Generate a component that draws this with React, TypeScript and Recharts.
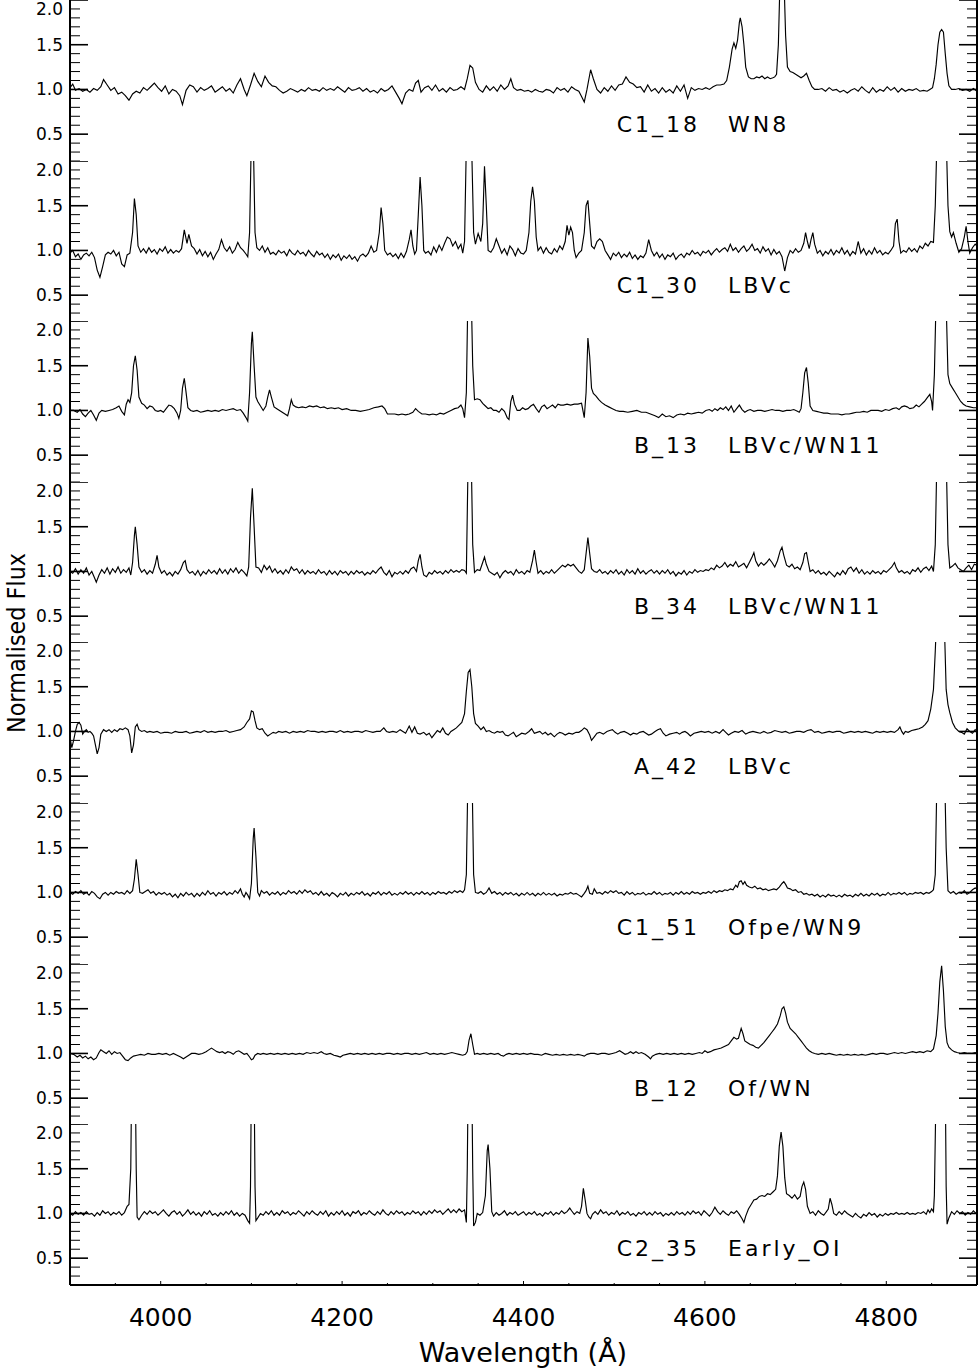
import React from 'react';
import { LineChart, Line, XAxis, YAxis } from 'recharts';

type Pt = [number, number];

const xTicks = [3900, 3950, 4000, 4050, 4100, 4150, 4200, 4250, 4300, 4350, 4400, 4450, 4500, 4550, 4600, 4650, 4700, 4750, 4800, 4850, 4900];
const xTickLabels = [4000, 4200, 4400, 4600, 4800];
const yTicks = [0.2, 0.3, 0.4, 0.5, 0.6, 0.7, 0.8, 0.9, 1.0, 1.1, 1.2, 1.3, 1.4, 1.5, 1.6, 1.7, 1.8, 1.9, 2.0];
const yTickLabels = [0.5, 1.0, 1.5, 2.0];

const panelNames = ['C1_18', 'C1_30', 'B_13', 'B_34', 'A_42', 'C1_51', 'B_12', 'C2_35'];
const panelTypes = ['WN8', 'LBVc', 'LBVc/WN11', 'LBVc/WN11', 'LBVc', 'Ofpe/WN9', 'Of/WN', 'Early_OI'];

const c118: Pt[] = [[3900,1.02],[3903,1.06],[3906,0.99],[3910,1.01],[3914,0.98],[3918,1.0],[3922,0.97],[3926,1.01],[3930,0.99],[3934,1.03],[3937,1.11],[3941,1.05],[3945,0.99],[3949,1.02],[3953,0.95],[3957,0.97],[3961,0.93],[3965,0.88],[3969,0.95],[3973,0.98],[3977,0.96],[3981,1.02],[3985,0.99],[3989,1.03],[3993,1.07],[3997,1.02],[4001,0.98],[4005,1.04],[4009,0.95],[4013,1.0],[4017,0.98],[4021,0.93],[4024,0.83],[4028,0.99],[4032,1.05],[4036,1.03],[4040,0.97],[4044,1.02],[4048,0.99],[4052,1.01],[4056,1.04],[4060,0.97],[4064,1.0],[4068,1.03],[4072,0.98],[4076,1.01],[4080,0.96],[4084,1.05],[4088,1.12],[4092,1.0],[4095,0.93],[4099,1.05],[4103,1.18],[4107,1.09],[4111,1.03],[4115,1.15],[4119,1.08],[4123,1.04],[4127,1.03],[4131,0.99],[4135,0.96],[4139,0.98],[4143,1.01],[4147,0.99],[4151,0.97],[4155,1.0],[4159,0.98],[4163,1.02],[4167,0.99],[4171,1.0],[4175,0.98],[4179,1.02],[4183,0.99],[4187,1.01],[4191,0.99],[4195,1.03],[4199,1.0],[4203,0.97],[4207,1.02],[4211,0.99],[4215,1.0],[4219,1.02],[4223,0.98],[4227,1.01],[4231,0.97],[4235,0.99],[4239,0.96],[4243,1.01],[4247,0.98],[4251,1.0],[4255,1.04],[4259,0.97],[4263,0.9],[4266,0.84],[4270,0.96],[4274,1.0],[4278,0.98],[4281,1.07],[4284,1.1],[4287,0.97],[4291,1.02],[4295,1.04],[4299,0.99],[4303,1.05],[4307,0.98],[4311,1.01],[4315,0.97],[4319,1.02],[4323,0.99],[4327,1.0],[4331,1.03],[4335,1.0],[4338,1.12],[4341,1.27],[4344,1.24],[4347,1.08],[4351,1.0],[4355,0.97],[4359,1.04],[4363,0.99],[4367,1.03],[4371,0.98],[4375,1.05],[4379,1.0],[4383,1.04],[4386,1.12],[4389,1.02],[4393,0.99],[4397,1.0],[4401,0.98],[4405,0.99],[4409,0.97],[4413,1.0],[4417,0.98],[4421,0.97],[4425,1.0],[4429,0.99],[4433,0.96],[4437,1.02],[4441,0.99],[4445,1.01],[4449,0.97],[4453,1.03],[4457,1.0],[4461,0.98],[4464,0.92],[4467,0.86],[4470,1.0],[4474,1.22],[4477,1.12],[4481,1.0],[4485,0.96],[4489,1.02],[4493,0.98],[4497,1.04],[4501,0.99],[4505,1.05],[4509,1.06],[4513,1.14],[4517,1.08],[4521,1.06],[4525,1.02],[4529,1.03],[4533,0.97],[4537,1.05],[4541,0.98],[4545,1.01],[4549,0.96],[4553,1.02],[4557,0.97],[4561,1.0],[4565,0.96],[4569,1.04],[4573,0.98],[4577,1.05],[4581,0.9],[4585,1.02],[4589,0.99],[4593,1.01],[4597,1.0],[4601,1.02],[4605,1.0],[4609,1.03],[4613,1.05],[4617,1.05],[4621,1.06],[4624,1.1],[4627,1.25],[4630,1.45],[4632,1.52],[4634,1.46],[4636,1.55],[4638,1.75],[4639,1.8],[4641,1.7],[4643,1.5],[4645,1.25],[4648,1.14],[4651,1.12],[4654,1.12],[4657,1.14],[4660,1.13],[4663,1.15],[4666,1.12],[4669,1.14],[4672,1.12],[4675,1.13],[4677,1.14],[4679,1.17],[4681,1.5],[4683,2.3],[4687,2.3],[4689,1.6],[4691,1.25],[4694,1.2],[4697,1.19],[4700,1.17],[4703,1.15],[4706,1.13],[4709,1.15],[4712,1.18],[4715,1.1],[4718,1.03],[4721,1.0],[4725,1.0],[4729,1.01],[4733,0.98],[4737,1.02],[4741,0.99],[4745,1.0],[4749,0.97],[4753,0.99],[4757,0.96],[4761,0.99],[4765,1.01],[4769,0.98],[4773,1.03],[4777,0.99],[4781,0.96],[4785,1.02],[4789,0.97],[4793,1.0],[4797,0.98],[4801,1.03],[4805,0.99],[4809,1.02],[4813,0.97],[4817,1.01],[4821,0.98],[4825,1.0],[4829,0.99],[4833,1.01],[4837,0.98],[4841,0.99],[4845,0.98],[4848,1.0],[4851,1.02],[4853,1.12],[4855,1.28],[4857,1.5],[4859,1.64],[4861,1.67],[4863,1.64],[4865,1.4],[4867,1.18],[4869,1.04],[4872,1.0],[4876,1.0],[4880,1.01],[4884,0.99],[4888,1.0],[4892,0.98],[4896,1.01],[4900,0.98]];

const c130: Pt[] = [[3900,0.97],[3903,1.0],[3906,0.93],[3909,0.96],[3912,0.9],[3915,0.95],[3918,0.97],[3921,0.94],[3924,0.98],[3927,0.92],[3930,0.78],[3933,0.7],[3936,0.82],[3939,0.95],[3942,0.98],[3945,0.96],[3948,1.0],[3951,0.94],[3954,0.98],[3957,0.85],[3960,0.82],[3963,0.95],[3966,0.97],[3969,1.2],[3971,1.58],[3973,1.4],[3975,1.05],[3978,0.98],[3981,1.02],[3984,0.97],[3987,1.03],[3990,0.98],[3993,1.01],[3996,0.96],[3999,1.02],[4002,0.99],[4005,1.04],[4008,0.97],[4011,1.01],[4014,0.97],[4017,1.0],[4020,0.98],[4023,1.02],[4026,1.23],[4029,1.08],[4031,1.18],[4034,1.05],[4037,1.02],[4040,0.96],[4043,1.01],[4046,0.94],[4049,0.99],[4052,0.93],[4055,0.98],[4058,0.9],[4061,0.96],[4064,1.01],[4067,1.12],[4070,1.03],[4073,0.99],[4076,1.04],[4079,0.97],[4082,1.01],[4085,1.09],[4088,1.03],[4091,1.0],[4094,0.96],[4096,0.93],[4098,1.2],[4100,2.3],[4102,2.3],[4104,1.2],[4106,1.03],[4109,1.0],[4112,1.05],[4115,0.98],[4118,1.03],[4121,0.96],[4124,0.98],[4127,0.95],[4130,1.0],[4133,0.97],[4136,0.99],[4139,0.94],[4142,1.01],[4145,0.97],[4148,0.95],[4151,1.0],[4154,0.96],[4157,0.98],[4160,0.94],[4163,1.0],[4166,0.96],[4169,0.93],[4172,0.99],[4175,0.95],[4178,0.97],[4181,0.92],[4184,0.96],[4187,0.9],[4190,0.95],[4193,0.92],[4196,0.96],[4199,0.89],[4202,0.94],[4205,0.91],[4208,0.95],[4211,0.9],[4214,0.93],[4217,0.88],[4220,0.94],[4223,0.96],[4226,0.93],[4229,0.97],[4232,1.05],[4235,0.98],[4238,1.0],[4241,1.2],[4243,1.48],[4245,1.3],[4247,1.0],[4250,0.95],[4253,0.97],[4256,0.93],[4259,0.96],[4262,0.91],[4265,0.97],[4268,0.92],[4271,0.99],[4274,1.12],[4276,1.23],[4278,1.05],[4280,0.96],[4282,1.0],[4284,1.4],[4286,1.82],[4288,1.5],[4290,1.0],[4292,0.97],[4295,0.99],[4298,0.95],[4301,1.04],[4304,0.98],[4307,1.06],[4310,1.0],[4313,1.08],[4316,1.15],[4319,1.13],[4322,1.05],[4325,1.1],[4328,1.02],[4331,1.07],[4333,0.97],[4335,1.1],[4337,2.2],[4339,2.5],[4341,2.5],[4343,2.1],[4345,1.2],[4347,1.07],[4350,1.19],[4353,1.1],[4355,1.3],[4357,1.94],[4359,1.5],[4361,1.0],[4364,0.98],[4367,1.03],[4370,1.13],[4373,1.05],[4376,0.97],[4379,1.02],[4382,0.95],[4385,1.05],[4388,1.01],[4391,0.94],[4394,1.02],[4397,0.97],[4400,0.96],[4403,1.0],[4406,1.2],[4408,1.55],[4410,1.71],[4412,1.55],[4414,1.15],[4416,1.0],[4419,1.04],[4422,0.97],[4425,1.03],[4428,0.98],[4431,0.96],[4434,1.02],[4437,0.98],[4440,1.05],[4443,1.01],[4446,1.1],[4448,1.28],[4450,1.17],[4452,1.26],[4454,1.2],[4456,1.0],[4458,0.92],[4461,0.97],[4464,1.0],[4467,1.2],[4469,1.5],[4471,1.56],[4473,1.3],[4475,1.05],[4478,1.02],[4481,1.1],[4484,1.13],[4487,1.1],[4490,1.0],[4493,0.95],[4496,0.9],[4499,0.97],[4502,0.94],[4505,0.98],[4508,0.92],[4511,0.96],[4514,0.93],[4517,0.98],[4520,0.91],[4523,0.95],[4526,0.9],[4529,0.94],[4532,0.92],[4535,0.97],[4538,1.12],[4541,1.0],[4544,0.94],[4547,0.98],[4550,0.92],[4553,0.96],[4556,0.9],[4559,0.95],[4562,0.93],[4565,0.97],[4568,0.9],[4571,0.94],[4574,0.96],[4577,0.92],[4580,0.97],[4583,0.95],[4586,1.0],[4589,0.96],[4592,0.98],[4595,0.94],[4598,0.99],[4601,0.97],[4604,1.0],[4607,0.95],[4610,0.99],[4613,1.02],[4616,0.98],[4619,1.01],[4622,1.03],[4625,0.99],[4628,1.07],[4631,1.0],[4634,1.03],[4637,0.98],[4640,1.02],[4643,1.05],[4646,0.99],[4649,1.02],[4652,1.07],[4655,1.0],[4658,1.02],[4661,0.97],[4664,1.04],[4667,0.99],[4670,1.02],[4673,0.95],[4676,1.01],[4679,0.96],[4682,0.99],[4685,0.93],[4688,0.77],[4691,0.92],[4694,1.0],[4697,0.97],[4700,1.02],[4703,0.98],[4706,1.0],[4709,1.08],[4711,1.2],[4713,1.1],[4715,1.02],[4717,1.12],[4719,1.2],[4721,1.07],[4724,0.97],[4727,1.0],[4730,0.94],[4733,0.99],[4736,0.96],[4739,1.01],[4742,0.95],[4745,1.0],[4748,0.97],[4751,1.03],[4754,0.96],[4757,1.0],[4760,0.94],[4763,0.99],[4766,0.96],[4769,1.1],[4772,0.97],[4775,1.02],[4778,0.95],[4781,1.0],[4784,0.96],[4787,1.03],[4790,0.97],[4793,1.0],[4796,0.95],[4799,0.98],[4802,0.96],[4805,1.0],[4808,1.05],[4810,1.3],[4812,1.35],[4814,1.1],[4816,0.97],[4819,1.0],[4822,0.98],[4825,1.03],[4828,0.99],[4831,1.02],[4834,0.98],[4837,1.05],[4840,1.02],[4843,1.08],[4846,1.05],[4849,1.1],[4852,1.09],[4854,1.5],[4856,2.3],[4862,2.5],[4866,2.3],[4868,1.5],[4870,1.21],[4872,1.15],[4874,1.2],[4877,1.08],[4880,0.98],[4883,1.02],[4886,1.15],[4888,1.27],[4890,1.1],[4892,0.97],[4895,1.03],[4898,1.07],[4900,1.05]];

const b13: Pt[] = [[3900,1.0],[3904,1.0],[3908,0.98],[3911,1.01],[3914,0.96],[3917,0.93],[3920,0.97],[3923,1.0],[3926,0.95],[3929,0.89],[3932,0.97],[3935,1.0],[3939,0.99],[3943,1.0],[3947,1.01],[3951,1.03],[3954,1.05],[3957,0.99],[3960,0.95],[3962,1.07],[3964,1.12],[3966,1.09],[3968,1.2],[3970,1.5],[3972,1.61],[3974,1.45],[3976,1.15],[3979,1.08],[3982,1.06],[3985,1.02],[3988,1.05],[3991,1.04],[3994,1.0],[3997,0.99],[4000,1.0],[4003,0.98],[4006,1.02],[4009,1.06],[4012,1.05],[4015,1.02],[4018,0.97],[4020,0.91],[4022,1.0],[4024,1.25],[4026,1.36],[4028,1.2],[4030,1.03],[4033,1.0],[4036,0.99],[4040,1.0],[4044,0.98],[4048,0.99],[4052,1.0],[4056,0.99],[4060,1.0],[4064,0.99],[4068,1.01],[4072,1.0],[4076,1.01],[4080,1.02],[4084,1.0],[4088,1.01],[4091,0.97],[4094,0.92],[4096,0.88],[4098,1.2],[4100,1.75],[4101,1.88],[4103,1.5],[4105,1.15],[4107,1.1],[4110,1.05],[4113,1.0],[4116,1.05],[4118,1.15],[4120,1.23],[4122,1.15],[4125,1.04],[4128,1.02],[4131,1.0],[4134,0.98],[4137,0.96],[4140,0.94],[4142,1.02],[4144,1.12],[4146,1.06],[4149,1.04],[4152,1.03],[4156,1.04],[4160,1.03],[4164,1.05],[4168,1.04],[4172,1.05],[4176,1.03],[4180,1.04],[4184,1.02],[4188,1.03],[4192,1.02],[4196,1.03],[4200,1.01],[4205,1.02],[4210,1.0],[4215,1.0],[4220,0.99],[4225,1.0],[4230,1.01],[4235,1.03],[4240,1.04],[4244,1.05],[4247,1.02],[4250,0.96],[4254,0.96],[4258,0.96],[4262,0.95],[4266,0.96],[4270,0.95],[4274,0.96],[4278,0.98],[4281,1.02],[4284,0.99],[4288,0.96],[4292,0.96],[4296,0.95],[4300,0.96],[4304,0.95],[4308,0.97],[4312,0.96],[4316,0.98],[4320,1.0],[4324,1.02],[4328,1.03],[4331,1.06],[4333,1.02],[4335,0.92],[4337,1.2],[4339,2.5],[4342,2.5],[4344,1.5],[4346,1.12],[4349,1.13],[4352,1.12],[4355,1.08],[4358,1.05],[4361,1.02],[4364,1.03],[4367,1.0],[4370,1.0],[4373,0.98],[4376,1.02],[4379,0.99],[4382,0.92],[4384,0.9],[4386,1.1],[4388,1.17],[4390,1.07],[4393,1.0],[4396,1.0],[4399,1.03],[4402,1.01],[4405,1.02],[4408,1.05],[4411,1.07],[4414,1.02],[4417,0.98],[4420,1.04],[4423,1.06],[4426,1.02],[4429,1.04],[4432,1.06],[4435,1.03],[4438,1.07],[4441,1.06],[4444,1.06],[4448,1.07],[4452,1.06],[4456,1.07],[4460,1.07],[4464,1.08],[4467,0.92],[4469,1.2],[4471,1.81],[4473,1.6],[4475,1.25],[4477,1.19],[4480,1.16],[4483,1.12],[4486,1.09],[4490,1.06],[4494,1.04],[4498,1.02],[4502,1.0],[4506,0.99],[4510,0.99],[4515,0.98],[4520,0.99],[4525,1.0],[4530,0.98],[4535,0.98],[4540,0.96],[4545,0.94],[4549,0.92],[4553,0.96],[4557,0.93],[4561,0.94],[4565,0.92],[4569,0.95],[4573,0.96],[4577,0.95],[4581,0.97],[4585,0.96],[4589,0.97],[4593,0.98],[4597,0.97],[4601,1.0],[4605,1.01],[4608,0.99],[4611,1.02],[4614,1.0],[4617,1.03],[4620,1.01],[4623,1.04],[4626,1.0],[4629,1.05],[4632,0.98],[4635,1.02],[4638,1.06],[4641,1.01],[4644,0.98],[4647,1.0],[4650,1.01],[4654,0.99],[4658,1.0],[4662,1.0],[4666,0.99],[4670,1.0],[4674,1.01],[4678,1.0],[4682,1.0],[4686,0.99],[4690,1.0],[4694,1.0],[4698,1.01],[4702,0.99],[4704,0.98],[4706,1.02],[4708,1.2],[4710,1.42],[4712,1.48],[4714,1.3],[4716,1.05],[4719,1.0],[4723,0.99],[4727,0.98],[4731,0.97],[4735,0.97],[4739,0.96],[4743,0.96],[4747,0.96],[4751,0.95],[4755,0.96],[4759,0.96],[4763,0.97],[4767,0.98],[4771,0.98],[4775,0.99],[4779,0.98],[4783,1.0],[4787,1.0],[4791,1.0],[4795,0.99],[4799,1.01],[4803,1.0],[4807,1.02],[4811,1.03],[4814,1.01],[4817,1.04],[4820,1.05],[4823,1.04],[4826,1.02],[4830,1.03],[4833,1.06],[4836,1.04],[4839,1.07],[4842,1.1],[4845,1.14],[4848,1.18],[4850,1.1],[4851,1.0],[4853,1.4],[4855,2.3],[4862,2.6],[4866,2.2],[4868,1.4],[4870,1.3],[4873,1.25],[4876,1.2],[4879,1.15],[4882,1.1],[4885,1.07],[4888,1.05],[4892,1.04],[4896,1.03],[4900,1.03]];

const b34: Pt[] = [[3900,1.0],[3903,0.98],[3906,1.03],[3909,0.97],[3912,1.02],[3915,0.98],[3918,1.04],[3921,0.96],[3924,1.0],[3927,0.93],[3929,0.88],[3932,0.96],[3935,1.02],[3938,0.98],[3941,1.04],[3944,0.97],[3947,1.03],[3950,0.99],[3953,1.05],[3956,0.98],[3959,1.02],[3962,0.99],[3965,1.04],[3967,0.96],[3969,1.1],[3971,1.4],[3972,1.5],[3974,1.3],[3976,1.05],[3979,0.99],[3982,1.02],[3985,0.97],[3988,1.01],[3991,0.98],[3994,1.08],[3996,1.18],[3998,1.05],[4001,0.98],[4004,1.01],[4007,0.96],[4010,0.99],[4013,0.95],[4016,1.0],[4019,0.97],[4022,1.02],[4025,1.1],[4027,1.12],[4029,1.02],[4032,0.98],[4035,1.0],[4038,0.96],[4041,1.01],[4044,0.95],[4047,1.0],[4050,0.97],[4053,1.02],[4056,0.98],[4059,1.01],[4062,0.97],[4065,1.03],[4068,0.98],[4071,1.02],[4074,0.97],[4077,1.03],[4080,0.99],[4083,1.04],[4086,0.98],[4089,1.02],[4092,0.99],[4095,0.95],[4097,1.05],[4099,1.6],[4101,1.93],[4103,1.5],[4105,1.05],[4108,1.04],[4111,0.99],[4114,1.07],[4117,1.02],[4120,1.06],[4123,0.99],[4126,1.03],[4129,0.98],[4132,1.01],[4135,0.97],[4138,1.02],[4141,0.98],[4144,1.05],[4147,1.01],[4150,1.03],[4153,0.98],[4156,1.02],[4159,0.97],[4162,1.01],[4165,0.98],[4168,1.0],[4171,0.97],[4174,1.02],[4177,0.98],[4180,1.0],[4183,0.96],[4186,1.01],[4189,0.97],[4192,1.0],[4195,0.96],[4198,1.01],[4201,0.98],[4204,1.0],[4207,0.96],[4210,1.0],[4213,0.97],[4216,1.01],[4219,0.98],[4222,1.0],[4225,0.96],[4228,0.99],[4231,0.97],[4234,1.01],[4237,0.98],[4240,1.02],[4243,1.05],[4246,0.99],[4249,0.96],[4252,1.01],[4255,0.94],[4258,0.99],[4261,0.97],[4264,1.0],[4267,0.97],[4270,1.01],[4273,0.98],[4276,1.03],[4279,1.05],[4282,1.0],[4284,1.12],[4286,1.19],[4288,1.05],[4290,0.96],[4293,0.94],[4296,0.99],[4299,0.97],[4302,1.01],[4305,0.98],[4308,1.0],[4311,0.97],[4314,1.01],[4317,0.98],[4320,1.02],[4323,0.99],[4326,1.01],[4329,0.99],[4332,1.02],[4335,1.01],[4337,0.98],[4339,2.3],[4342,2.5],[4344,1.3],[4346,0.99],[4349,1.02],[4352,1.01],[4355,1.1],[4357,1.16],[4359,1.08],[4362,1.0],[4365,0.98],[4368,0.96],[4371,0.99],[4374,0.93],[4377,0.98],[4380,1.01],[4383,0.98],[4386,1.0],[4389,0.96],[4392,1.02],[4395,0.98],[4398,1.0],[4401,0.97],[4404,1.01],[4407,0.99],[4410,1.12],[4412,1.24],[4414,1.1],[4416,0.98],[4419,1.01],[4422,0.97],[4425,1.0],[4428,0.98],[4431,1.02],[4434,0.98],[4437,1.01],[4440,1.04],[4443,1.07],[4446,1.05],[4449,1.08],[4452,1.06],[4455,1.08],[4458,1.04],[4461,1.0],[4464,0.98],[4467,1.02],[4469,1.2],[4471,1.38],[4473,1.2],[4475,1.03],[4478,1.0],[4481,0.99],[4484,1.02],[4487,0.98],[4490,1.0],[4493,0.97],[4496,1.01],[4499,0.98],[4502,1.02],[4505,0.97],[4508,1.0],[4511,0.96],[4514,1.02],[4517,0.98],[4520,1.01],[4523,0.97],[4526,1.03],[4529,0.98],[4532,1.01],[4535,0.97],[4538,1.0],[4541,1.02],[4544,0.98],[4547,1.01],[4550,0.97],[4553,1.01],[4556,0.98],[4559,1.02],[4562,0.97],[4565,1.0],[4568,0.95],[4571,0.99],[4574,0.97],[4577,1.01],[4580,0.96],[4583,1.0],[4586,0.98],[4589,1.02],[4592,0.99],[4595,1.01],[4598,1.0],[4601,1.02],[4604,1.01],[4607,1.04],[4610,1.02],[4613,1.07],[4616,1.04],[4619,1.06],[4622,1.1],[4625,1.05],[4628,1.08],[4631,1.06],[4634,1.11],[4637,1.05],[4640,1.07],[4643,1.09],[4646,1.04],[4649,1.1],[4652,1.16],[4654,1.21],[4656,1.12],[4659,1.06],[4662,1.1],[4665,1.07],[4668,1.1],[4671,1.14],[4674,1.1],[4677,1.05],[4680,1.12],[4683,1.23],[4685,1.27],[4687,1.18],[4690,1.07],[4693,1.05],[4696,1.08],[4699,1.03],[4702,1.05],[4705,1.02],[4708,1.1],[4710,1.2],[4712,1.21],[4714,1.1],[4716,1.0],[4719,1.02],[4722,0.98],[4725,1.01],[4728,0.97],[4731,0.99],[4734,0.96],[4737,1.0],[4740,0.97],[4743,0.94],[4746,0.99],[4749,0.96],[4752,1.01],[4755,0.97],[4758,1.03],[4761,1.05],[4764,1.0],[4767,1.04],[4770,0.98],[4773,1.02],[4776,0.97],[4779,1.0],[4782,0.97],[4785,1.01],[4788,0.98],[4791,1.0],[4794,0.97],[4797,1.01],[4800,0.99],[4803,1.02],[4806,1.05],[4809,1.1],[4811,1.04],[4814,0.99],[4817,1.01],[4820,0.98],[4823,1.0],[4826,0.97],[4829,1.02],[4832,1.0],[4835,1.04],[4838,0.99],[4841,1.03],[4844,1.05],[4847,1.01],[4850,1.06],[4852,1.0],[4854,1.3],[4856,2.4],[4862,2.6],[4866,2.3],[4868,1.3],[4870,1.04],[4873,1.06],[4876,1.09],[4879,1.04],[4882,1.02],[4885,1.0],[4888,1.04],[4891,1.07],[4894,1.02],[4897,1.08],[4900,1.07]];

const a42: Pt[] = [[3900,0.93],[3902,0.82],[3904,0.9],[3906,1.0],[3908,1.08],[3910,1.1],[3912,1.07],[3914,0.97],[3916,1.0],[3918,1.02],[3920,0.99],[3922,1.0],[3924,0.98],[3926,0.95],[3928,0.85],[3930,0.75],[3932,0.82],[3934,0.97],[3937,1.02],[3940,1.0],[3943,1.02],[3946,0.99],[3949,1.02],[3952,1.0],[3955,1.03],[3958,1.02],[3961,1.04],[3964,1.02],[3966,0.95],[3968,0.76],[3970,0.85],[3972,1.05],[3974,1.08],[3976,1.02],[3979,1.0],[3982,1.01],[3985,0.99],[3988,1.0],[3992,0.99],[3996,1.0],[4000,0.98],[4004,0.99],[4008,0.99],[4012,0.98],[4016,1.0],[4020,0.99],[4024,0.99],[4028,1.0],[4032,0.98],[4036,0.99],[4040,1.0],[4044,0.99],[4048,1.01],[4052,0.99],[4056,1.0],[4060,0.99],[4064,1.0],[4068,1.0],[4072,1.01],[4076,0.99],[4080,1.0],[4084,1.01],[4088,1.02],[4092,1.05],[4095,1.1],[4098,1.14],[4100,1.23],[4102,1.22],[4104,1.12],[4106,1.04],[4109,1.02],[4112,1.03],[4115,0.98],[4118,0.95],[4121,0.97],[4124,0.99],[4127,0.98],[4130,1.0],[4134,0.99],[4138,1.0],[4142,0.98],[4146,1.0],[4150,0.99],[4154,1.0],[4158,0.99],[4162,1.01],[4166,1.0],[4170,1.0],[4174,0.99],[4178,1.0],[4182,0.99],[4186,1.0],[4190,1.0],[4194,0.99],[4198,1.01],[4202,0.99],[4206,1.0],[4210,0.99],[4214,1.0],[4218,1.0],[4222,0.99],[4226,1.01],[4230,1.0],[4234,0.99],[4238,1.0],[4242,1.0],[4246,1.04],[4249,1.0],[4252,0.99],[4256,1.0],[4260,0.99],[4264,1.02],[4267,1.0],[4270,0.98],[4274,1.06],[4277,0.99],[4280,1.05],[4283,0.98],[4286,0.97],[4290,0.99],[4293,0.96],[4296,0.98],[4299,0.93],[4302,0.97],[4305,1.01],[4308,0.99],[4311,1.04],[4314,0.98],[4317,0.96],[4320,1.0],[4323,1.02],[4326,1.04],[4329,1.07],[4332,1.1],[4335,1.2],[4337,1.45],[4339,1.66],[4341,1.69],[4343,1.5],[4345,1.2],[4347,1.09],[4350,1.06],[4353,1.02],[4356,1.05],[4359,1.0],[4362,1.01],[4365,0.99],[4368,0.98],[4371,1.0],[4374,0.99],[4377,1.0],[4380,0.96],[4383,0.95],[4386,0.97],[4389,0.99],[4392,0.94],[4395,0.96],[4398,0.98],[4402,0.97],[4406,1.0],[4409,1.03],[4412,0.98],[4415,0.99],[4418,1.0],[4421,0.97],[4424,0.99],[4427,0.96],[4430,0.98],[4434,0.94],[4437,0.97],[4440,0.99],[4443,0.98],[4446,0.96],[4450,0.98],[4454,0.97],[4458,0.99],[4461,0.99],[4464,1.01],[4467,1.04],[4470,1.02],[4473,0.96],[4475,0.9],[4478,0.94],[4481,0.98],[4484,0.99],[4488,0.97],[4492,1.0],[4495,1.01],[4498,1.02],[4501,0.99],[4504,0.97],[4507,0.99],[4511,1.0],[4515,0.98],[4518,0.96],[4521,0.98],[4525,0.97],[4528,0.99],[4532,1.0],[4535,0.98],[4538,0.96],[4541,0.97],[4545,1.0],[4548,1.02],[4551,1.03],[4554,0.98],[4557,0.95],[4561,0.97],[4565,0.98],[4569,0.99],[4572,0.97],[4575,0.99],[4578,1.0],[4581,0.98],[4584,0.95],[4588,0.98],[4592,0.99],[4596,1.0],[4600,0.99],[4604,1.0],[4608,0.98],[4612,1.0],[4616,0.98],[4620,1.02],[4623,0.99],[4626,0.96],[4629,0.98],[4633,1.0],[4637,0.99],[4641,1.01],[4645,0.97],[4649,0.99],[4653,1.0],[4657,0.99],[4661,0.98],[4665,1.0],[4669,0.98],[4673,0.99],[4677,1.01],[4681,1.0],[4685,0.99],[4689,1.0],[4693,0.98],[4697,0.99],[4701,1.0],[4705,1.0],[4709,0.99],[4713,1.01],[4717,1.02],[4721,0.99],[4725,1.0],[4729,0.98],[4733,0.99],[4737,1.0],[4741,0.99],[4745,1.0],[4749,1.0],[4753,0.98],[4757,0.99],[4761,1.0],[4765,0.99],[4769,1.0],[4773,0.99],[4777,1.0],[4781,0.99],[4785,0.98],[4789,1.0],[4793,0.99],[4797,1.0],[4801,0.99],[4805,1.0],[4809,0.99],[4813,1.02],[4815,1.05],[4817,1.0],[4819,0.97],[4821,1.0],[4824,0.99],[4828,1.01],[4832,1.02],[4836,1.03],[4840,1.05],[4843,1.08],[4846,1.12],[4849,1.25],[4852,1.47],[4854,1.9],[4856,2.4],[4862,2.6],[4864,2.2],[4866,1.47],[4868,1.3],[4870,1.21],[4873,1.1],[4876,1.04],[4880,1.0],[4883,0.99],[4886,0.97],[4889,1.03],[4892,1.0],[4895,0.98],[4898,1.02],[4900,1.0]];

const c151: Pt[] = [[3900,1.0],[3903,0.98],[3906,1.01],[3909,0.99],[3912,1.02],[3915,0.98],[3918,1.0],[3921,0.97],[3924,1.01],[3927,0.99],[3930,0.95],[3933,0.93],[3936,0.98],[3939,1.0],[3942,0.97],[3945,1.0],[3948,0.98],[3951,1.01],[3954,0.99],[3957,1.0],[3960,0.98],[3963,1.02],[3966,0.99],[3969,1.02],[3971,1.15],[3973,1.37],[3975,1.2],[3977,1.0],[3980,0.99],[3983,1.01],[3986,1.03],[3989,0.99],[3992,1.01],[3995,0.97],[3998,1.0],[4001,0.98],[4004,1.0],[4007,0.97],[4010,0.99],[4013,0.95],[4016,0.98],[4019,0.94],[4022,0.99],[4025,0.96],[4028,1.0],[4031,0.97],[4034,0.99],[4037,0.95],[4040,0.99],[4043,0.96],[4046,1.0],[4049,0.97],[4052,1.02],[4055,0.98],[4058,1.0],[4061,0.96],[4064,1.0],[4067,0.98],[4070,1.01],[4073,0.97],[4076,1.0],[4079,0.98],[4082,1.02],[4085,0.99],[4088,1.04],[4090,0.98],[4092,0.95],[4094,1.0],[4096,0.97],[4098,0.93],[4100,1.1],[4102,1.6],[4103,1.72],[4105,1.4],[4107,1.0],[4109,0.96],[4111,1.02],[4114,0.99],[4117,1.01],[4120,0.97],[4123,1.0],[4126,0.98],[4129,1.01],[4132,0.97],[4135,1.0],[4138,0.98],[4141,1.02],[4144,0.99],[4147,1.01],[4150,0.98],[4153,1.02],[4156,0.99],[4159,1.03],[4162,1.0],[4165,1.02],[4168,0.98],[4171,1.0],[4174,0.97],[4177,1.01],[4180,0.97],[4183,0.99],[4186,0.96],[4189,1.0],[4192,0.98],[4195,0.95],[4198,0.99],[4201,0.97],[4204,1.0],[4207,0.96],[4210,0.99],[4213,0.97],[4216,1.0],[4219,0.98],[4222,1.01],[4225,0.97],[4228,0.99],[4231,0.96],[4234,1.0],[4237,0.98],[4240,1.01],[4243,0.97],[4246,1.0],[4249,0.98],[4252,1.01],[4255,0.97],[4258,0.99],[4261,0.97],[4264,1.0],[4267,0.98],[4270,1.01],[4273,0.98],[4276,1.0],[4279,0.97],[4282,1.0],[4285,0.98],[4288,1.01],[4291,0.98],[4294,1.0],[4297,0.97],[4300,1.0],[4303,0.98],[4306,1.01],[4309,0.99],[4312,1.0],[4315,0.98],[4318,1.01],[4321,0.99],[4324,1.02],[4327,1.0],[4330,1.02],[4333,1.0],[4335,1.03],[4337,1.2],[4339,2.5],[4343,2.5],[4345,1.2],[4347,1.0],[4350,0.99],[4353,1.01],[4356,0.98],[4359,1.0],[4362,1.05],[4365,0.99],[4368,1.01],[4371,0.98],[4374,1.0],[4377,0.97],[4380,1.0],[4383,0.98],[4386,1.0],[4389,0.97],[4392,0.99],[4395,0.96],[4398,0.99],[4401,0.97],[4404,1.0],[4407,0.97],[4410,0.99],[4413,0.96],[4416,0.99],[4419,0.97],[4422,1.0],[4425,0.97],[4428,0.99],[4431,0.97],[4434,0.99],[4437,0.96],[4440,0.98],[4443,0.97],[4446,0.99],[4449,0.98],[4452,1.0],[4455,0.98],[4458,0.99],[4461,0.97],[4464,0.95],[4467,0.99],[4469,1.02],[4471,1.07],[4473,0.99],[4476,0.98],[4478,1.04],[4481,0.99],[4484,1.0],[4487,0.98],[4490,1.01],[4493,0.99],[4496,1.02],[4499,1.0],[4502,1.02],[4505,0.99],[4508,1.0],[4511,0.97],[4514,1.01],[4517,0.98],[4520,1.0],[4523,0.97],[4526,0.99],[4529,0.98],[4532,1.0],[4535,0.97],[4538,0.99],[4541,0.98],[4544,1.01],[4547,0.98],[4550,1.0],[4553,0.97],[4556,0.99],[4559,0.98],[4562,1.0],[4565,0.97],[4568,1.0],[4571,0.98],[4574,1.01],[4577,0.98],[4580,1.0],[4583,0.98],[4586,1.01],[4589,0.99],[4592,1.0],[4595,0.98],[4598,1.0],[4601,0.99],[4604,1.01],[4607,0.99],[4610,1.02],[4613,1.0],[4616,1.02],[4619,1.01],[4622,1.03],[4625,1.02],[4628,1.04],[4631,1.03],[4634,1.08],[4636,1.06],[4638,1.12],[4640,1.13],[4642,1.09],[4644,1.12],[4646,1.08],[4649,1.06],[4652,1.05],[4655,1.07],[4658,1.04],[4661,1.05],[4664,1.03],[4667,1.04],[4670,1.02],[4673,1.03],[4676,1.04],[4679,1.03],[4682,1.06],[4685,1.1],[4687,1.12],[4689,1.09],[4691,1.05],[4694,1.04],[4697,1.02],[4700,1.03],[4703,1.0],[4706,1.01],[4709,0.98],[4712,0.99],[4715,0.97],[4718,0.98],[4721,0.96],[4724,0.98],[4727,0.95],[4730,0.97],[4733,0.95],[4736,0.98],[4739,0.96],[4742,0.97],[4745,0.95],[4748,0.97],[4751,0.95],[4754,0.98],[4757,0.96],[4760,0.97],[4763,0.95],[4766,0.98],[4769,0.96],[4772,0.99],[4775,0.96],[4778,0.98],[4781,0.96],[4784,0.99],[4787,0.97],[4790,0.99],[4793,0.96],[4796,0.98],[4799,0.97],[4802,1.0],[4805,0.97],[4808,0.99],[4811,0.98],[4814,1.0],[4817,0.98],[4820,1.0],[4823,0.97],[4826,0.99],[4829,0.98],[4832,1.0],[4835,0.99],[4838,1.0],[4841,0.98],[4844,1.0],[4847,0.99],[4850,1.01],[4852,1.03],[4854,1.2],[4856,2.4],[4864,2.5],[4866,1.5],[4868,1.02],[4871,0.99],[4874,1.01],[4877,0.98],[4880,1.0],[4883,0.99],[4886,1.02],[4889,0.98],[4892,1.0],[4895,1.03],[4898,1.05],[4900,1.04]];

const b12: Pt[] = [[3900,1.0],[3904,0.99],[3908,0.96],[3911,0.98],[3914,0.95],[3917,0.97],[3920,0.94],[3923,0.96],[3926,0.93],[3929,0.95],[3932,1.01],[3934,1.04],[3937,1.02],[3940,1.0],[3943,1.03],[3946,0.99],[3949,1.02],[3952,1.0],[3955,1.01],[3958,0.97],[3961,0.93],[3964,0.92],[3967,0.95],[3970,0.97],[3974,0.98],[3978,0.99],[3982,0.98],[3986,1.0],[3990,0.99],[3994,0.99],[3998,1.0],[4002,0.99],[4006,1.0],[4010,0.98],[4014,1.0],[4018,0.98],[4022,0.96],[4025,0.94],[4028,0.96],[4031,0.98],[4034,1.0],[4038,1.0],[4042,0.99],[4046,1.0],[4050,1.02],[4053,1.04],[4056,1.06],[4059,1.04],[4062,1.02],[4065,1.01],[4068,1.02],[4071,1.0],[4074,1.02],[4077,1.01],[4080,0.99],[4083,1.02],[4086,1.03],[4089,1.01],[4092,0.99],[4095,1.0],[4098,0.96],[4100,0.93],[4102,0.94],[4104,0.98],[4107,1.0],[4110,0.99],[4113,1.0],[4117,0.99],[4121,1.0],[4125,0.99],[4129,1.0],[4133,0.99],[4137,1.0],[4141,0.99],[4145,1.0],[4149,0.99],[4153,1.0],[4157,0.99],[4161,1.01],[4165,1.0],[4169,1.01],[4173,1.0],[4177,1.02],[4180,1.0],[4183,0.99],[4187,1.0],[4191,0.98],[4195,0.97],[4198,0.96],[4201,0.98],[4205,0.99],[4209,1.0],[4213,0.99],[4217,1.0],[4221,0.99],[4225,1.0],[4229,0.99],[4233,1.0],[4237,0.99],[4241,1.0],[4245,0.99],[4249,1.0],[4253,1.0],[4257,0.99],[4261,1.0],[4265,0.99],[4269,1.0],[4273,1.0],[4277,0.99],[4281,1.0],[4285,0.99],[4289,1.0],[4293,1.01],[4297,0.99],[4301,1.0],[4305,0.99],[4309,1.0],[4313,0.99],[4317,1.0],[4321,1.01],[4325,1.0],[4329,0.99],[4333,0.98],[4336,0.99],[4338,1.02],[4340,1.15],[4342,1.22],[4344,1.1],[4346,0.99],[4349,1.0],[4352,0.99],[4356,1.0],[4360,0.99],[4364,1.0],[4368,0.99],[4372,1.0],[4375,0.98],[4378,0.97],[4381,0.99],[4384,1.0],[4388,0.99],[4392,1.0],[4396,0.99],[4400,1.0],[4404,0.99],[4408,1.0],[4412,0.99],[4416,0.99],[4420,0.98],[4424,1.0],[4428,0.99],[4432,0.98],[4436,0.99],[4440,0.98],[4444,0.99],[4448,0.98],[4452,0.99],[4456,0.98],[4460,0.99],[4464,0.98],[4467,0.97],[4470,0.99],[4474,1.0],[4478,1.0],[4482,0.99],[4486,1.0],[4490,1.0],[4494,0.99],[4498,1.0],[4502,1.01],[4506,1.03],[4509,1.01],[4512,0.99],[4515,1.0],[4518,1.02],[4521,1.0],[4524,1.02],[4527,1.0],[4530,1.01],[4534,0.99],[4538,0.96],[4540,0.94],[4542,0.97],[4546,0.99],[4550,1.0],[4554,0.99],[4558,1.0],[4562,0.99],[4566,1.0],[4570,0.99],[4574,1.0],[4578,0.99],[4582,1.0],[4586,0.99],[4590,1.0],[4594,1.01],[4597,1.0],[4600,1.03],[4603,1.01],[4606,1.02],[4610,1.04],[4614,1.05],[4618,1.06],[4622,1.08],[4626,1.1],[4629,1.14],[4632,1.18],[4635,1.16],[4637,1.17],[4640,1.28],[4642,1.22],[4644,1.14],[4647,1.12],[4650,1.1],[4653,1.09],[4656,1.07],[4659,1.06],[4662,1.09],[4665,1.12],[4668,1.16],[4671,1.2],[4674,1.24],[4677,1.28],[4680,1.33],[4683,1.42],[4685,1.5],[4687,1.52],[4689,1.45],[4691,1.35],[4694,1.28],[4697,1.25],[4700,1.22],[4703,1.18],[4706,1.14],[4709,1.1],[4712,1.06],[4715,1.03],[4718,1.01],[4721,1.0],[4725,0.99],[4729,1.0],[4733,0.99],[4737,1.0],[4741,0.99],[4745,0.98],[4749,0.99],[4753,0.98],[4757,0.99],[4761,0.98],[4765,0.99],[4769,0.98],[4773,0.99],[4777,0.98],[4781,0.99],[4785,1.0],[4789,0.99],[4793,1.0],[4797,1.0],[4801,0.99],[4805,1.0],[4809,1.01],[4813,1.0],[4817,1.01],[4821,1.0],[4825,1.01],[4829,1.02],[4833,1.01],[4837,1.02],[4841,1.01],[4845,1.03],[4849,1.02],[4852,1.05],[4855,1.2],[4857,1.45],[4859,1.8],[4861,1.98],[4863,1.7],[4865,1.3],[4867,1.12],[4869,1.07],[4872,1.04],[4875,1.02],[4878,1.01],[4882,1.0],[4886,1.01],[4890,1.0],[4894,1.0],[4898,1.01],[4900,1.0]];

const c235: Pt[] = [[3900,1.0],[3903,0.98],[3906,1.02],[3909,0.99],[3912,1.01],[3915,0.98],[3918,1.02],[3921,0.99],[3924,1.0],[3927,0.97],[3930,1.01],[3933,0.98],[3936,1.03],[3939,1.0],[3942,1.02],[3945,0.98],[3948,1.01],[3951,0.99],[3954,1.02],[3957,0.98],[3960,1.01],[3963,1.08],[3965,1.1],[3967,1.5],[3968,2.5],[3972,2.5],[3973,1.5],[3974,0.96],[3976,0.93],[3979,0.98],[3982,1.02],[3985,0.99],[3988,1.03],[3991,1.0],[3994,1.02],[3997,0.98],[4000,1.01],[4003,1.04],[4006,1.0],[4009,0.97],[4012,1.01],[4015,1.03],[4018,0.99],[4021,1.02],[4024,0.97],[4027,1.0],[4030,1.04],[4033,0.99],[4036,1.02],[4039,0.98],[4042,1.01],[4045,0.97],[4048,1.02],[4051,0.99],[4054,1.03],[4057,0.98],[4060,1.0],[4063,0.97],[4066,1.01],[4069,0.98],[4072,1.02],[4075,0.99],[4078,1.03],[4081,0.98],[4084,1.01],[4087,0.97],[4090,1.0],[4093,0.98],[4096,0.92],[4098,0.89],[4099,1.3],[4100,2.5],[4103,2.5],[4104,1.3],[4105,0.92],[4107,0.95],[4110,1.0],[4113,0.98],[4116,1.02],[4119,0.99],[4122,1.03],[4125,0.98],[4128,1.01],[4131,0.98],[4134,1.03],[4137,1.0],[4140,1.02],[4143,0.98],[4146,1.01],[4149,0.99],[4152,1.03],[4155,1.0],[4158,0.97],[4161,1.02],[4164,0.99],[4167,1.03],[4170,1.0],[4173,0.98],[4176,1.02],[4179,0.99],[4182,1.03],[4185,0.97],[4188,1.01],[4191,0.98],[4194,1.02],[4197,0.99],[4200,1.03],[4203,0.98],[4206,1.01],[4209,0.97],[4212,1.02],[4215,1.0],[4218,1.03],[4221,0.98],[4224,1.01],[4227,0.99],[4230,1.03],[4233,1.0],[4236,0.98],[4239,1.02],[4242,0.99],[4245,1.04],[4248,1.0],[4251,0.98],[4254,1.02],[4257,0.99],[4260,1.03],[4263,1.0],[4266,1.02],[4269,0.98],[4272,1.01],[4275,0.99],[4278,1.03],[4281,1.0],[4284,1.02],[4287,0.98],[4290,1.02],[4293,0.99],[4296,1.03],[4299,1.0],[4302,1.04],[4305,1.01],[4308,1.03],[4311,0.99],[4314,1.02],[4317,1.05],[4320,1.01],[4323,1.04],[4326,1.01],[4329,1.05],[4332,1.02],[4335,1.04],[4337,0.9],[4338,1.5],[4339,2.5],[4343,2.5],[4344,1.5],[4345,0.86],[4347,0.9],[4349,1.0],[4352,0.98],[4355,1.01],[4358,1.2],[4360,1.7],[4361,1.77],[4363,1.5],[4365,1.02],[4367,0.97],[4370,1.01],[4373,0.98],[4376,1.0],[4379,1.03],[4382,0.98],[4385,1.01],[4388,0.99],[4391,1.02],[4394,0.98],[4397,1.0],[4400,1.02],[4403,0.98],[4406,1.01],[4409,0.99],[4412,1.02],[4415,0.98],[4418,1.0],[4421,0.97],[4424,1.01],[4427,0.99],[4430,1.02],[4433,0.98],[4436,1.01],[4439,0.99],[4442,1.03],[4445,1.0],[4448,1.02],[4451,1.06],[4453,1.03],[4456,0.99],[4459,1.02],[4462,1.0],[4464,1.08],[4466,1.28],[4468,1.15],[4470,1.0],[4472,0.96],[4474,0.94],[4476,0.99],[4479,1.02],[4482,0.99],[4485,1.04],[4488,1.0],[4491,1.02],[4494,0.98],[4497,1.01],[4500,0.99],[4503,1.03],[4506,0.98],[4509,1.01],[4512,0.99],[4515,1.02],[4518,0.98],[4521,1.0],[4524,0.97],[4527,1.01],[4530,0.99],[4533,1.02],[4536,0.98],[4539,1.01],[4542,0.98],[4545,1.02],[4548,0.99],[4551,1.01],[4554,0.97],[4557,1.0],[4560,0.98],[4563,1.01],[4566,0.98],[4569,1.02],[4572,0.99],[4575,1.01],[4578,0.98],[4581,1.02],[4584,0.99],[4587,1.03],[4590,1.0],[4593,1.02],[4596,0.98],[4599,1.03],[4602,1.0],[4605,0.97],[4608,1.01],[4611,1.07],[4614,1.02],[4617,0.99],[4620,1.03],[4623,1.0],[4626,0.98],[4629,1.02],[4632,1.0],[4635,1.03],[4638,0.99],[4641,0.94],[4643,0.9],[4645,0.97],[4648,1.05],[4651,1.1],[4654,1.15],[4657,1.16],[4660,1.19],[4663,1.2],[4666,1.19],[4669,1.22],[4672,1.21],[4675,1.24],[4678,1.27],[4680,1.42],[4682,1.75],[4684,1.91],[4686,1.75],[4688,1.4],[4690,1.22],[4693,1.2],[4696,1.17],[4699,1.21],[4702,1.16],[4705,1.19],[4707,1.3],[4709,1.35],[4711,1.27],[4713,1.08],[4716,1.0],[4719,1.02],[4722,0.98],[4725,1.03],[4728,1.0],[4731,0.98],[4734,1.02],[4736,1.05],[4738,1.17],[4740,1.1],[4742,1.0],[4745,0.98],[4748,1.02],[4751,0.99],[4754,1.03],[4757,1.0],[4760,0.98],[4763,0.96],[4766,1.0],[4769,0.97],[4772,0.95],[4775,0.99],[4778,0.97],[4781,1.01],[4784,0.98],[4787,1.0],[4790,0.96],[4793,0.99],[4796,0.97],[4799,1.0],[4802,0.98],[4805,1.0],[4808,0.99],[4811,1.01],[4814,0.99],[4817,1.0],[4820,0.99],[4823,1.01],[4826,0.99],[4829,1.0],[4832,0.99],[4835,1.01],[4838,1.0],[4841,1.02],[4844,0.99],[4846,1.04],[4848,1.01],[4850,1.05],[4852,1.02],[4853,1.2],[4855,2.5],[4865,2.5],[4866,1.3],[4867,0.88],[4869,0.95],[4872,1.02],[4875,0.99],[4878,1.03],[4881,1.0],[4884,1.02],[4887,0.98],[4890,1.01],[4893,0.99],[4896,1.03],[4899,1.0],[4900,1.01]];

const spectra: Pt[][] = [c118, c130, b13, b34, a42, c151, b12, c235];

const FONT = "'DejaVu Sans', 'Liberation Sans', sans-serif";
const W = 978;
const PANEL_H = 161;
const PANEL_STEP = 160.6;
const LEFT_W = 70;
const BOTTOM_H = 84;

const isMajorY = (v: number) => yTickLabels.some((t) => Math.abs(t - v) < 1e-6);
const isMajorX = (v: number) => xTickLabels.includes(v);

function BottomTick(props: any) {
  const { x, y, payload, showLabels } = props;
  const v = payload.value as number;
  const major = isMajorX(v);
  return (
    <g>
      <line x1={x} y1={y} x2={x} y2={y - (major ? 4 : 2)} stroke="#000" strokeWidth={1} />
      {showLabels && major ? (
        <text x={x} y={y + 41} textAnchor="middle" fontSize={25} fontFamily={FONT} fill="#000">
          {v}
        </text>
      ) : null}
    </g>
  );
}

function TopTick(props: any) {
  const { x, y, payload } = props;
  const v = payload.value as number;
  const major = isMajorX(v);
  return <line x1={x} y1={y} x2={x} y2={y + (major ? 4 : 2)} stroke="#000" strokeWidth={1} />;
}

function LeftTick(props: any) {
  const { x, y, payload } = props;
  const v = payload.value as number;
  const major = isMajorY(v);
  const top = Math.abs(v - 2.0) < 1e-6;
  return (
    <g>
      <line x1={x} y1={y} x2={x + (major ? 18 : 10)} y2={y} stroke="#000" strokeWidth={major ? 1.6 : 1} />
      {major ? (
        <text x={x - 7} y={top ? y + 9 : y} textAnchor="end" dominantBaseline="central" fontSize={17} fontFamily={FONT} fill="#000">
          {v.toFixed(1)}
        </text>
      ) : null}
    </g>
  );
}

function RightTick(props: any) {
  const { x, y, payload } = props;
  const v = payload.value as number;
  const major = isMajorY(v);
  return <line x1={x} y1={y} x2={x - (major ? 18 : 10)} y2={y} stroke="#000" strokeWidth={major ? 1.6 : 1} />;
}

function Panel({ idx }: { idx: number }) {
  const last = idx === spectra.length - 1;
  const data = spectra[idx].map(([w, f]) => ({ w, f }));
  const top = Math.round(idx * PANEL_STEP);
  const height = last ? PANEL_H + BOTTOM_H : PANEL_H;
  const axisLine = { stroke: '#000', strokeWidth: 2 };
  return (
    <div style={{ position: 'absolute', left: 0, top, width: W, height }}>
      <LineChart width={W} height={height} data={data} margin={{ top: 0, right: 0, bottom: 0, left: 0 }}>
        <XAxis
          xAxisId="b"
          dataKey="w"
          type="number"
          domain={[3900, 4900]}
          allowDataOverflow
          ticks={xTicks}
          interval={0}
          orientation="bottom"
          height={last ? BOTTOM_H : 0}
          tickSize={0}
          tickMargin={0}
          tickLine={false}
          axisLine={axisLine}
          tick={(p: any) => <BottomTick {...p} showLabels={last} />}
        />
        <XAxis
          xAxisId="t"
          dataKey="w"
          type="number"
          domain={[3900, 4900]}
          allowDataOverflow
          ticks={xTicks}
          interval={0}
          orientation="top"
          height={0}
          tickSize={0}
          tickMargin={0}
          tickLine={false}
          axisLine={axisLine}
          tick={(p: any) => <TopTick {...p} />}
        />
        <YAxis
          yAxisId="l"
          type="number"
          domain={[0.2, 2.0]}
          allowDataOverflow
          ticks={yTicks}
          interval={0}
          orientation="left"
          width={LEFT_W}
          tickSize={0}
          tickMargin={0}
          tickLine={false}
          axisLine={axisLine}
          tick={(p: any) => <LeftTick {...p} />}
        />
        <YAxis
          yAxisId="r"
          type="number"
          domain={[0.2, 2.0]}
          allowDataOverflow
          ticks={yTicks}
          interval={0}
          orientation="right"
          width={1}
          tickSize={0}
          tickMargin={0}
          tickLine={false}
          axisLine={axisLine}
          tick={(p: any) => <RightTick {...p} />}
        />
        <Line
          xAxisId="b"
          yAxisId="l"
          type="linear"
          dataKey="f"
          stroke="#000"
          strokeWidth={1.15}
          dot={false}
          activeDot={false}
          isAnimationActive={false}
        />
      </LineChart>
    </div>
  );
}

export default function App() {
  return (
    <div style={{ position: 'absolute', left: 0, top: 0, width: W, height: 1369, background: '#fff', overflow: 'hidden' }}>
      {spectra.map((_, i) => (
        <Panel key={i} idx={i} />
      ))}
      <svg
        width={W}
        height={1369}
        style={{ position: 'absolute', left: 0, top: 0, pointerEvents: 'none' }}
      >
        {panelNames.map((name, i) => {
          const top = Math.round(i * PANEL_STEP);
          return (
            <g key={name + i} fontFamily={FONT} fontSize={22} fill="#000" letterSpacing={3}>
              <text x={700} y={top + 131.5} textAnchor="end">{name}</text>
              <text x={728} y={top + 131.5} textAnchor="start">{panelTypes[i]}</text>
            </g>
          );
        })}
        <text x={523} y={1362} textAnchor="middle" fontFamily={FONT} fontSize={27} fill="#000">
          Wavelength (Å)
        </text>
        <text
          transform="translate(25,643) rotate(-90)"
          textAnchor="middle"
          fontFamily={FONT}
          fontSize={24}
          textLength={180}
          lengthAdjust="spacingAndGlyphs"
          fill="#000"
        >
          Normalised Flux
        </text>
      </svg>
    </div>
  );
}
